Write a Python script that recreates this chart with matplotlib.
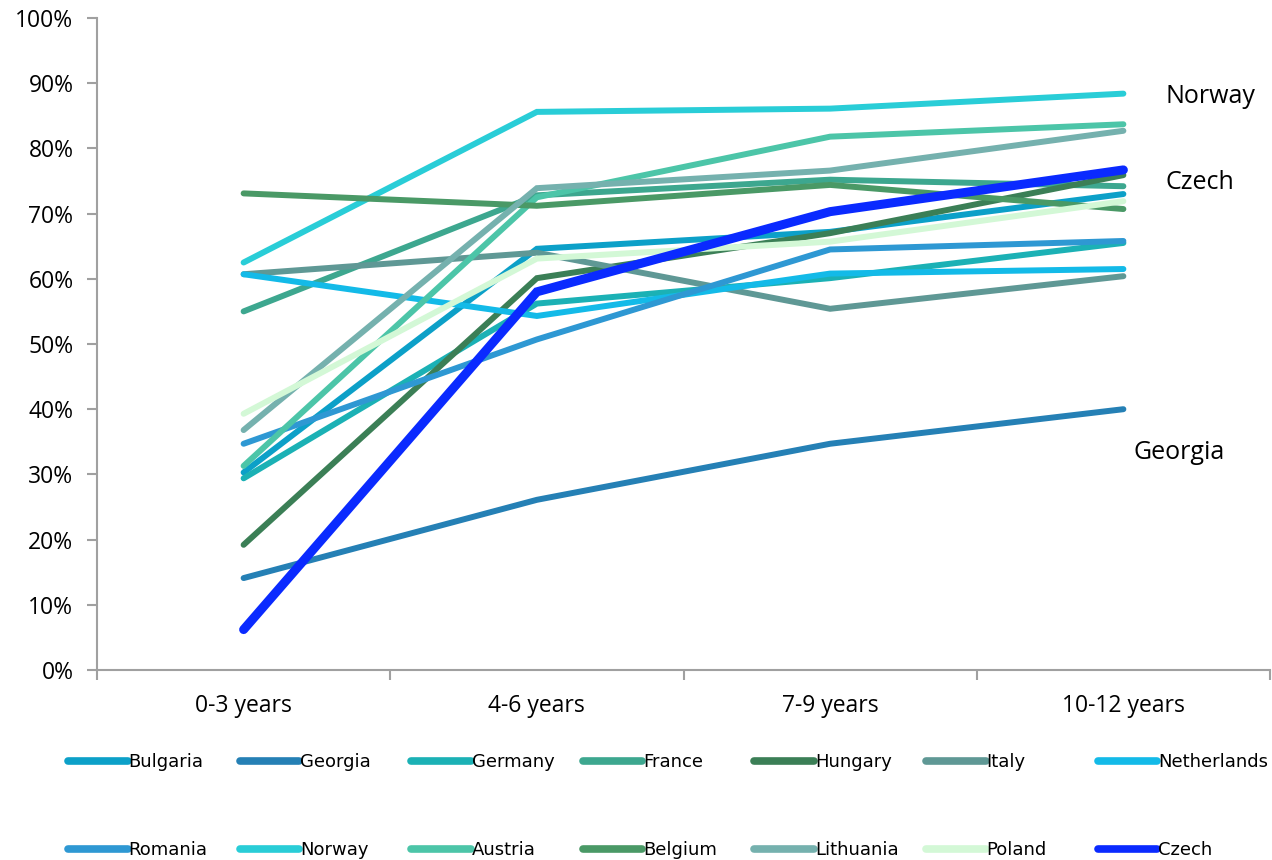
import numpy as np
import matplotlib
matplotlib.use('Agg')
import matplotlib.pyplot as plt
from matplotlib.lines import Line2D

plt.rcParams['font.family'] = ['Open Sans', 'DejaVu Sans']

categories = ['0-3 years', '4-6 years', '7-9 years', '10-12 years']

bulgaria = [30.3, 64.6, 67.2, 73.0]
georgia = [14.1, 26.1, 34.7, 40.0]
germany = [29.4, 56.2, 60.1, 65.5]
france = [55.0, 72.8, 75.2, 74.2]
hungary = [19.2, 60.1, 67.0, 75.9]
italy = [60.7, 64.0, 55.4, 60.4]
netherlands = [60.7, 54.3, 60.8, 61.5]
romania = [34.7, 50.7, 64.5, 65.8]
norway = [62.5, 85.6, 86.1, 88.4]
austria = [31.3, 72.5, 81.8, 83.7]
belgium = [73.1, 71.2, 74.4, 70.7]
lithuania = [36.8, 73.9, 76.6, 82.7]
poland = [39.3, 63.1, 65.7, 71.9]
czech = [6.2, 58.0, 70.3, 76.7]

names = ['Bulgaria', 'Georgia', 'Germany', 'France', 'Hungary', 'Italy', 'Netherlands',
         'Romania', 'Norway', 'Austria', 'Belgium', 'Lithuania', 'Poland', 'Czech']
series = [bulgaria, georgia, germany, france, hungary, italy, netherlands,
          romania, norway, austria, belgium, lithuania, poland, czech]
colors = ['#0ca0c8', '#2580b5', '#1bb1b5', '#3da78f', '#3b7f56', '#5f9895', '#13bae8',
          '#2e98d3', '#29cdd7', '#4cc5a8', '#4a9966', '#75b1ae', '#d3f8d6', '#0a2aff']

fig = plt.figure(figsize=(12.72, 8.6), dpi=100)
ax = fig.add_axes([97 / 1272, 1 - 670 / 860, 1173 / 1272, 652 / 860])

x = np.arange(len(categories)) + 0.5
for name, vals, col in zip(names, series, colors):
    lw = 6.5 if name == 'Czech' else 4.3
    ax.plot(x, vals, color=col, lw=lw, solid_capstyle='round', solid_joinstyle='miter', label=name)

ax.set_xlim(0, len(categories))
ax.set_ylim(0, 100)
ax.set_yticks(np.arange(0, 101, 10))
ax.set_yticklabels([f'{v}%' for v in range(0, 101, 10)], fontsize=16.5)
ax.set_xticks(np.arange(0, len(categories) + 1))
ax.set_xticklabels([])
ax.set_xticks(x, minor=True)
ax.set_xticklabels(categories, minor=True, fontsize=16.5)
ax.tick_params(axis='x', which='minor', length=0, pad=17)
ax.tick_params(axis='both', which='major', length=7, color='#a0a0a0', width=1.5)
ax.tick_params(axis='y', pad=10)
for s in ['top', 'right']:
    ax.spines[s].set_visible(False)
for s in ['left', 'bottom']:
    ax.spines[s].set_color('#a0a0a0')
    ax.spines[s].set_linewidth(1.5)

ax.text(3.642, 87.9, 'Norway', fontsize=18, va='center', ha='left')
ax.text(3.642, 74.8, 'Czech', fontsize=18, va='center', ha='left')
ax.text(3.533, 33.4, 'Georgia', fontsize=18, va='center', ha='left')

# legend: two rows of seven, fixed spacing
for i, (name, col) in enumerate(zip(names, colors)):
    row, c = divmod(i, 7)
    h = Line2D([0], [0], color=col, lw=5.5, solid_capstyle='round')
    fig.legend(handles=[h], labels=[name], loc='center left',
               bbox_to_anchor=((68 + c * 171.6) / 1272, 1 - (762 + row * 88) / 860),
               frameon=False, handlelength=3.3, handletextpad=0.05,
               borderpad=0, borderaxespad=0, prop={'family': ['Liberation Sans Narrow', 'DejaVu Sans'], 'size': 13})

fig.savefig('out.png', dpi=100)
